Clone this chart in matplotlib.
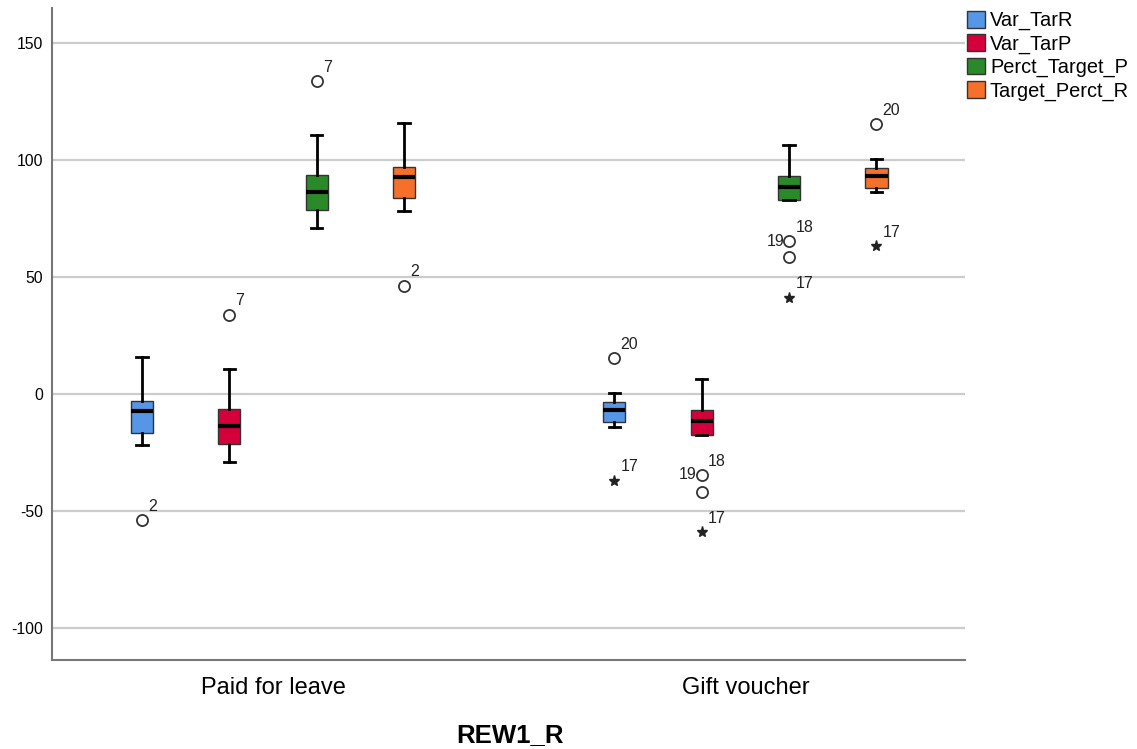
import numpy as np
import matplotlib.pyplot as plt

plt.rcParams['font.family'] = ['Liberation Sans', 'DejaVu Sans']
plt.rcParams['axes.unicode_minus'] = False

groups = ["Paid for leave", "Gift voucher"]
series = ["Var_TarR", "Var_TarP", "Perct_Target_P", "Target_Perct_R"]
colors = ["#5596e6", "#d5003a", "#2a8a2a", "#f5702a"]

# five-number summaries: [whislo, q1, med, q3, whishi]
paid_stats = [
    [-22.0, -16.5, -7.3, -2.9, 15.8],
    [-29.2, -21.4, -13.5, -6.3, 10.5],
    [71.1, 78.8, 86.3, 93.6, 110.8],
    [78.1, 83.8, 92.9, 97.1, 115.9],
]
gift_stats = [
    [-14.0, -12.1, -6.7, -3.3, 0.3],
    [-17.5, -17.5, -11.5, -6.8, 6.3],
    [82.9, 82.9, 88.5, 93.3, 106.4],
    [86.5, 88.2, 93.4, 96.6, 100.3],
]

# outliers: (group, series index, value, marker, labels)
outliers = [
    (0, 0, -53.8, "o", ["2"]),
    (0, 1, 33.9, "o", ["7"]),
    (0, 2, 133.8, "o", ["7"]),
    (0, 3, 46.3, "o", ["2"]),
    (1, 0, 15.4, "o", ["20"]),
    (1, 0, -37.0, "*", ["17"]),
    (1, 1, -34.6, "o", ["18", "19"]),
    (1, 1, -42.0, "o", []),
    (1, 1, -59.0, "*", ["17"]),
    (1, 2, 65.4, "o", ["18", "19"]),
    (1, 2, 58.4, "o", []),
    (1, 2, 41.2, "*", ["17"]),
    (1, 3, 115.5, "o", ["20"]),
    (1, 3, 63.2, "*", ["17"]),
]

spacing = 0.185
offsets = (np.arange(len(series)) - 1.5) * spacing

fig = plt.figure(figsize=(11.37, 7.49), dpi=100)
ax = fig.add_axes([52 / 1137, 89 / 749, 913 / 1137, 652 / 749])

for gi, stats in enumerate([paid_stats, gift_stats]):
    for si, s in enumerate(stats):
        st = dict(whislo=s[0], q1=s[1], med=s[2], q3=s[3], whishi=s[4], fliers=[])
        ax.bxp([st], positions=[gi + offsets[si]], widths=0.047, patch_artist=True,
               showfliers=False, capwidths=0.024,
               boxprops=dict(facecolor=colors[si], edgecolor="#333333", linewidth=1),
               medianprops=dict(color="black", linewidth=3),
               whiskerprops=dict(color="black", linewidth=2),
               capprops=dict(color="black", linewidth=2))

for gi, si, v, m, labs in outliers:
    x = gi + offsets[si]
    if m == "o":
        ax.plot(x, v, marker="o", markersize=8, markerfacecolor="white",
                markeredgecolor="#333333", markeredgewidth=1.3, linestyle="none")
    else:
        ax.plot(x, v, marker="*", markersize=8, color="#222222", linestyle="none")
    for k, lab in enumerate(labs):
        if k == 1:
            ax.annotate(lab, (x, v), xytext=(-3.5, 0), textcoords="offset points",
                        fontsize=11.5, color="#222222", ha="right", va="center")
        else:
            ax.annotate(lab, (x, v), xytext=(4.5, 4.5), textcoords="offset points",
                        fontsize=11.5, color="#222222", ha="left", va="bottom")

ax.set_xlim(-0.468, 1.465)
ax.set_ylim(-113.7, 165)
ax.set_yticks([-100, -50, 0, 50, 100, 150])
ax.set_xticks([0, 1])
ax.set_xticklabels(groups, fontsize=17)
ax.tick_params(axis="x", length=0, pad=12)
ax.tick_params(axis="y", labelsize=11.3, length=0, pad=6.5)
ax.yaxis.grid(True, color="#cccccc", linewidth=1.6)
ax.set_axisbelow(True)
for sp in ["top", "right"]:
    ax.spines[sp].set_visible(False)
for sp in ["left", "bottom"]:
    ax.spines[sp].set_color("#777777")
    ax.spines[sp].set_linewidth(1.5)
fig.text(510 / 1137, 1 - 735 / 749, "REW1_R", fontsize=18.5, fontweight="bold",
         ha="center", va="center")

handles = [plt.Rectangle((0, 0), 1, 1, facecolor=c, edgecolor="#333333") for c in colors]
fig.legend(handles, series, loc="upper left", bbox_to_anchor=(967 / 1137, 1 - 11 / 749),
           frameon=False, fontsize=14.4, handlelength=0.9, handleheight=0.9,
           handletextpad=0.25, labelspacing=0.2, borderaxespad=0, borderpad=0)

fig.savefig("out.png", dpi=100)
